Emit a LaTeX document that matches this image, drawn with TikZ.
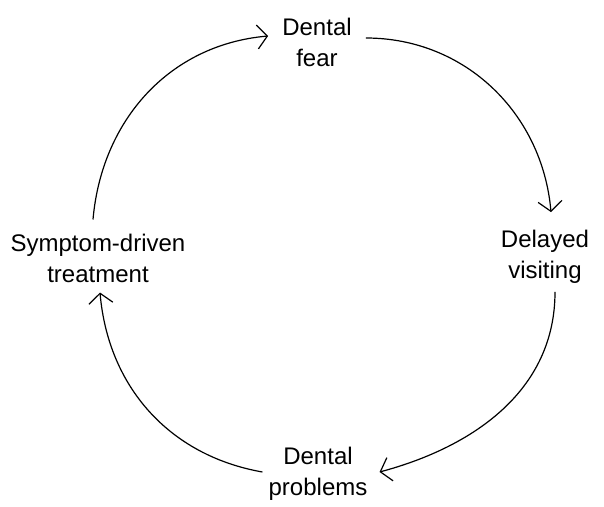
\documentclass[tikz,border=0pt]{standalone}
\usepackage{fontspec}
\setmainfont{Liberation Sans}
\usetikzlibrary{arrows.meta}
\begin{document}
\begin{tikzpicture}[
    x=1pt, y=-1pt,
    font=\fontsize{24}{31}\selectfont,
    stage/.style={align=center, inner sep=2pt},
    arr/.style={-{Straight Barb[length=10pt,width=24pt]}, line width=1.2pt},
  ]
    \useasboundingbox (0,0) rectangle (604,506);

    \node[stage] (fear) at (317,42) {Dental\\fear};
    \node[stage] (delay) at (545,257) {Delayed\\visiting};
    \node[stage] (probs) at (318,474) {Dental\\problems};
    \node[stage] (sympt) at (98,258) {Symptom-driven\\treatment};

    \draw[arr] ([xshift=12pt,yshift=4pt]fear.east) to[out=0,in=95] ([xshift=6pt,yshift=16pt]delay.north);
    \draw[arr] ([xshift=10pt,yshift=-6pt]delay.south) to[out=-90,in=15] ([xshift=10pt,yshift=2pt]probs.east);
    \draw[arr] ([xshift=-4pt,yshift=2pt]probs.west) to[out=170,in=-85] ([xshift=2pt,yshift=-8pt]sympt.south);
    \draw[arr] ([xshift=-5pt,yshift=12pt]sympt.north) to[out=85,in=185] ([xshift=-12pt,yshift=6pt]fear.west);
\end{tikzpicture}
\end{document}
